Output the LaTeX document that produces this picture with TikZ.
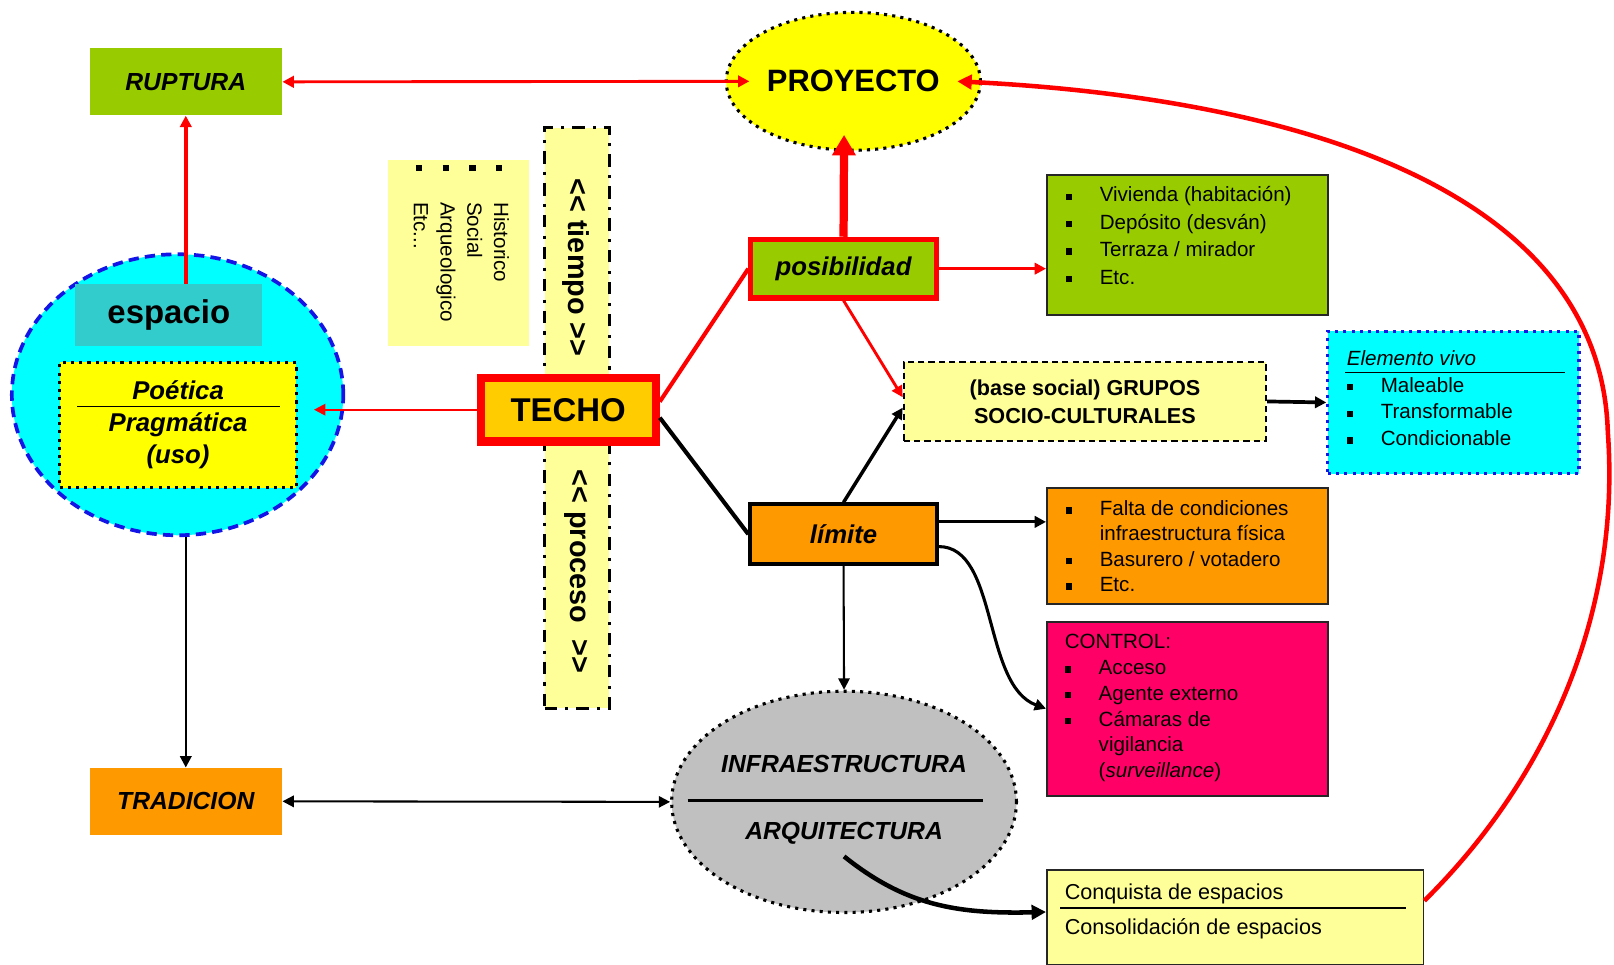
\documentclass[tikz,border=0pt]{standalone}
\usepackage{fontspec}
\setmainfont{Liberation Sans}
\usetikzlibrary{arrows.meta,shapes.geometric}

\definecolor{verde}{RGB}{153,204,0}
\definecolor{amarillo}{RGB}{255,255,0}
\definecolor{crema}{RGB}{255,255,153}
\definecolor{celeste}{RGB}{0,255,255}
\definecolor{turquesa}{RGB}{51,204,204}
\definecolor{naranja}{RGB}{255,153,0}
\definecolor{dorado}{RGB}{255,204,0}
\definecolor{fucsia}{RGB}{255,0,102}
\definecolor{gris}{RGB}{192,192,192}
\definecolor{azul}{RGB}{20,20,230}

\newcommand{\bul}{\makebox[16.5pt][l]{\rule[1pt]{3pt}{3pt}}}
\newcommand{\fs}[2]{\fontsize{#1}{#2}\selectfont}

\tikzset{
  caja/.style={rectangle, inner sep=0pt},
  lista/.style={caja, draw=black!85, line width=0.8pt},
  txt/.style={inner sep=0pt, anchor=north west, align=left},
  puntos/.style={line width=1.5pt, dash pattern=on 1.5pt off 2.5pt},
  rojo/.style={draw=red, line width=1.3pt},
  negro/.style={draw=black, line width=1.3pt},
}

\begin{document}
\begin{tikzpicture}[x=0.5pt, y=-0.5pt, >={Triangle[length=5.5pt,width=5.5pt]}]
\useasboundingbox (0,0) rectangle (1568,937);

\node[caja, fill=verde, minimum width=93.5pt, minimum height=32.5pt, font=\fs{12}{14}\bfseries\itshape] (rup) at (180.5,79.5){RUPTURA};
\node[ellipse, fill=celeste, draw=azul, line width=1.8pt, dash pattern=on 5pt off 3pt, minimum width=161pt, minimum height=136.5pt] (espc) at (172.5,383.5){};
\node[caja, fill=turquesa, minimum width=91pt, minimum height=30pt, font=\fs{16}{18}\bfseries] (esp) at (164,306){espacio};
\node[caja, fill=amarillo, draw=black, puntos, minimum width=115pt, minimum height=61pt, align=center, font=\fs{12.5}{15.5}\bfseries\itshape] (poet) at (173,413){Poética\\Pragmática\\(uso)};
\draw[line width=0.8pt] (75,395) -- (272,395);
\node[caja, fill=naranja, minimum width=93.5pt, minimum height=32.5pt, font=\fs{12}{14}\bfseries\itshape] (trad) at (180.5,778.5){TRADICION};

\node[caja, fill=crema, minimum width=68.5pt, minimum height=90.5pt] (hist) at (445.5,245.5){};
\node[txt, rotate=-90, font=\fs{10}{13}] (histtxt) at (495,160){\makebox[18pt][l]{\rule[1pt]{3pt}{3pt}}Historico\\\makebox[18pt][l]{\rule[1pt]{3pt}{3pt}}Social\\\makebox[18pt][l]{\rule[1pt]{3pt}{3pt}}Arqueologico\\\makebox[18pt][l]{\rule[1pt]{3pt}{3pt}}Etc...};

\node[caja, fill=crema, draw=black, line width=1.5pt, dash pattern=on 6pt off 4pt on 1.5pt off 4pt, minimum width=31.5pt, minimum height=282pt] (barra) at (560.5,406){};
\node[rotate=-90, font=\fs{14}{16}\bfseries] (tiempo) at (560,260){<\kern0pt<\ tiempo >\kern0pt>};
\node[rotate=-90, font=\fs{14}{16}\bfseries] (proceso) at (560,555){<\kern0pt<\ proceso \ >\kern0pt>};
\node[caja, fill=dorado, draw=red, line width=4pt, minimum width=85pt, minimum height=31pt, font=\fs{16}{18}\bfseries] (techo) at (552,398){TECHO};

\node[ellipse, inner sep=0pt, fill=amarillo, draw=black, puntos, minimum width=123.5pt, minimum height=67pt, font=\fs{15}{17}\bfseries] (proj) at (829,79){PROYECTO};
\coordinate (projL) at (728,79);
\coordinate (projR) at (930,79);
\coordinate (projB) at (820,131);

\node[caja, fill=verde, draw=red, line width=2.5pt, minimum width=90pt, minimum height=28.5pt, font=\fs{12.5}{14}\bfseries\itshape] (posib) at (819.5,261){posibilidad};
\node[lista, fill=verde, minimum width=136.5pt, minimum height=68pt] (glist) at (1153.5,238){};
\node[txt, font=\fs{10}{13.3}] (glisttxt) at (1035,181){\bul Vivienda (habitación)\\\bul Depósito (desván)\\\bul Terraza / mirador\\\bul Etc.};

\node[caja, fill=crema, draw=black, line width=1pt, dash pattern=on 3pt off 2pt, minimum width=176pt, minimum height=38pt, align=center, font=\fs{10.5}{13.5}\bfseries] (grupos) at (1054,390){(base social) GRUPOS\\SOCIO-CULTURALES};
\node[caja, fill=celeste, draw=azul, puntos, minimum width=122pt, minimum height=69pt] (elem) at (1412,391){};
\node[txt, font=\fs{10}{13}] (elemtxt) at (1308,340){\textit{Elemento vivo}\\\bul Maleable\\\bul Transformable\\\bul Condicionable};
\draw[line width=0.8pt] (1307,362) -- (1520,362);

\node[caja, fill=naranja, draw=black, line width=2pt, minimum width=90.5pt, minimum height=29pt, font=\fs{12.5}{14}\bfseries\itshape] (limite) at (819.5,519){límite};
\node[lista, fill=naranja, minimum width=136.5pt, minimum height=56.5pt] (olist) at (1153.5,530.5){};
\node[txt, font=\fs{10}{12.3}] (olisttxt) at (1035,486){\bul Falta de condiciones\\\hspace*{16.5pt}infraestructura física\\\bul Basurero / votadero\\\bul Etc.};
\node[lista, fill=fucsia, minimum width=136.5pt, minimum height=84.5pt] (control) at (1153.5,688.5){};
\node[txt, font=\fs{10}{12.5}] (controltxt) at (1034,616){CONTROL:\\\bul Acceso\\\bul Agente externo\\\bul Cámaras de\\\hspace*{16.5pt}vigilancia\\\hspace*{16.5pt}(\textit{surveillance})};

\node[ellipse, fill=gris, draw=black, puntos, minimum width=167.5pt, minimum height=107.5pt] (infra) at (820,779){};
\node[font=\fs{12}{14}\bfseries\itshape] (infra1) at (820,742){INFRAESTRUCTURA};
\node[font=\fs{12}{14}\bfseries\itshape] (infra2) at (820,810){ARQUITECTURA};
\draw[line width=1.5pt] (668,778) -- (955,778);
\coordinate (infraout) at (820,832);

\node[lista, fill=crema, minimum width=183pt, minimum height=46pt] (conq) at (1200,891){};
\node[txt, font=\fs{10.5}{17}] (conqtxt) at (1034,858){Conquista de espacios\\Consolidación de espacios};
\draw[line width=0.8pt] (1030,882) -- (1366,882);
\coordinate (poetin) at (305,398);

\draw[rojo, line width=1.4pt, <->](rup.east) -- (projL);
\draw[rojo, line width=1.7pt, ->](esp.north -| rup.south) -- (rup.south);
\draw[rojo, line width=1pt, ->](techo.west) -- (poetin);
\draw[rojo, line width=2pt](techo.5) -- (posib.west);
\draw[negro, line width=2pt](techo.-5) -- (limite.west);
\draw[draw=red, line width=4pt, -{Triangle[length=10pt,width=11pt]}](posib.north) -- (projB);
\draw[rojo, ->](posib.east) -- (posib.east -| glist.west);
\draw[rojo, line width=1.4pt, ->](posib.south) -- ([yshift=2pt]grupos.west);
\draw[negro, line width=1.7pt, ->](limite.north) -- ([yshift=-3pt]grupos.west);
\draw[negro, line width=1.8pt, ->](grupos.east) -- (elem.west);
\draw[negro, line width=1.4pt, ->]([yshift=6pt]limite.east) -- ([yshift=6pt]limite.east -| olist.west);
\draw[negro, line width=1.5pt, ->]([yshift=-6pt]limite.east) .. controls +(58,0) and +(-62,-23) .. (control.west);
\draw[negro, line width=1pt, ->](limite.south) -- (infra.north);
\draw[negro, line width=1.2pt, ->](espc.south -| trad.north) -- (trad.north);
\draw[negro, line width=1pt, <->](trad.east) -- (infra.west);
\draw[negro, line width=2.2pt, -{Triangle[length=7pt,width=7pt]}](infraout) .. controls (880,880) and (930,888) .. ([yshift=2.5pt]conq.west);
\draw[rojo, line width=2.2pt, -{Triangle[length=7pt,width=7pt]}]([yshift=8pt]conq.east) .. controls (1500,760) and (1575,600) .. (1562,420) .. controls (1555,180) and (1250,95) .. (projR);

\end{tikzpicture}
\end{document}
